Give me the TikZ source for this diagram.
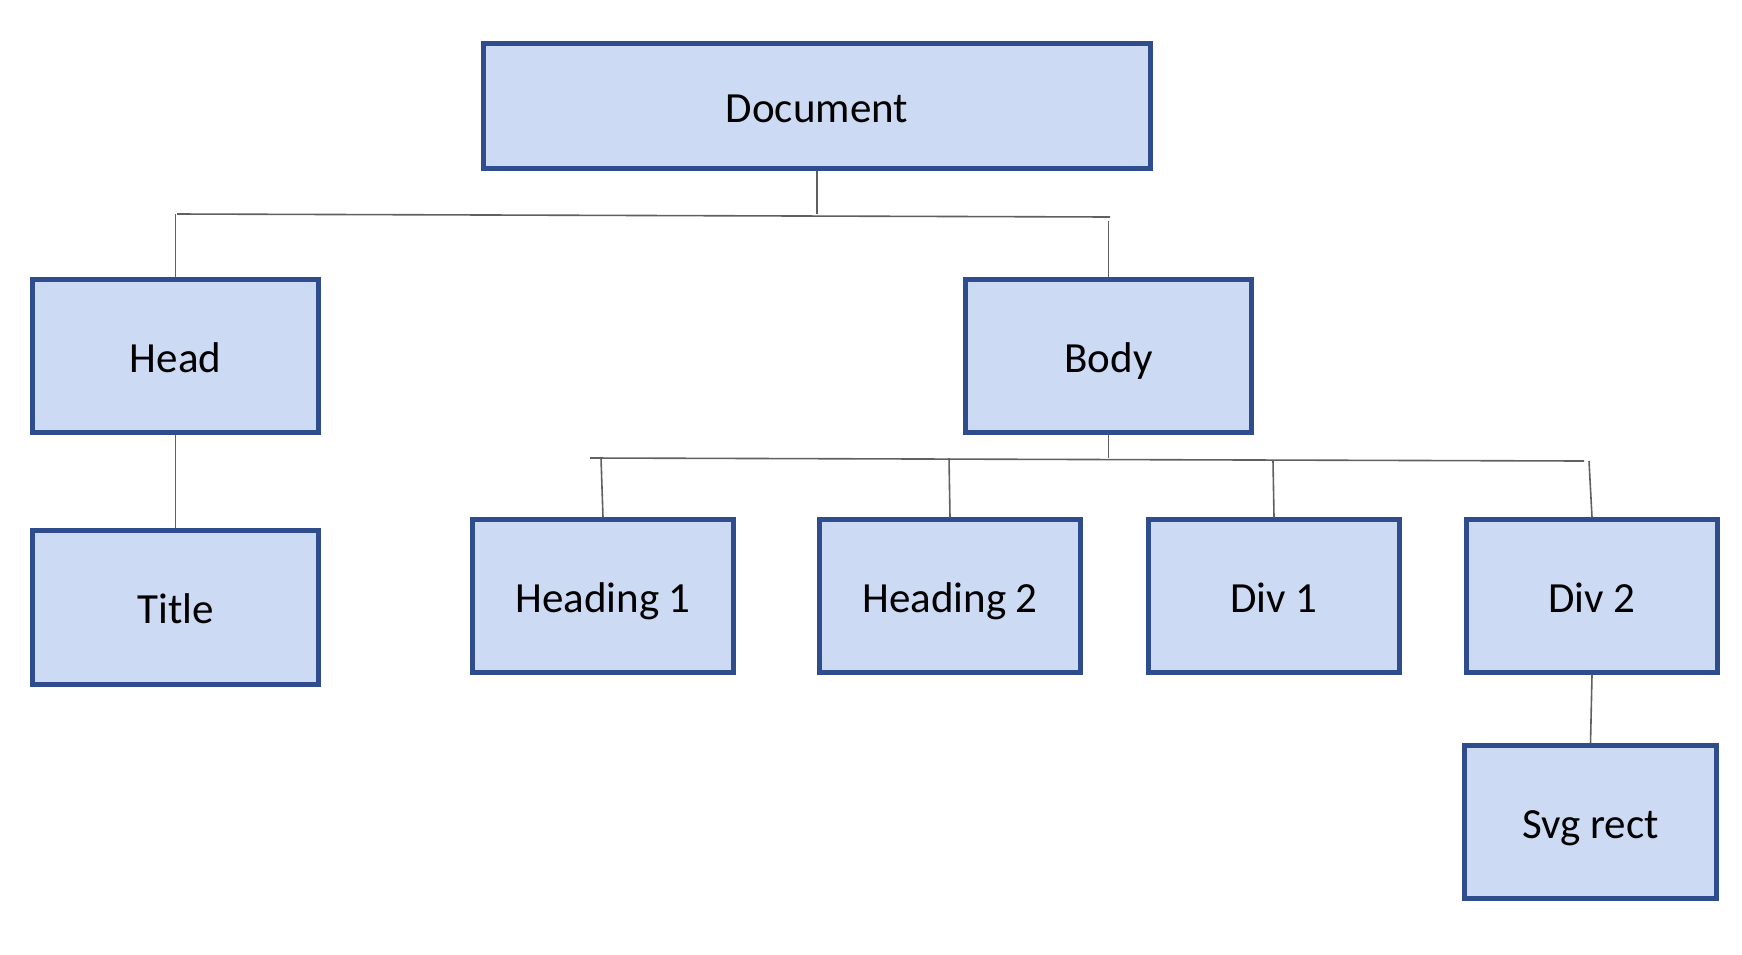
\documentclass[tikz,border=0pt]{standalone}
\usepackage{fontspec}
\setmainfont{Carlito}
\definecolor{boxfill}{HTML}{CCDAF3}
\definecolor{boxline}{HTML}{2F4D8C}
\definecolor{connc}{HTML}{606060}
\tikzset{
  box/.style={rectangle, draw=boxline, fill=boxfill, line width=4.4pt, inner sep=0pt,
    text=black, font=\fontsize{43}{50}\selectfont, text height=32pt, text depth=0pt},
  conn/.style={draw=connc, line width=1.6pt}
}
\begin{document}
\begin{tikzpicture}[x=1pt,y=-1pt]
\useasboundingbox (0,0) rectangle (1742,954);
% nodes
\node[box, minimum width=667pt, minimum height=125pt] (doc) at (817,106) {Document};
\node[box, minimum width=286pt, minimum height=153pt] (head) at (175.5,356) {Head};
\node[box, minimum width=286pt, minimum height=153pt] (body) at (1108.5,356) {Body};
\node[box, minimum width=286pt, minimum height=154pt] (title) at (175.5,607.5) {Title};
\node[box, minimum width=261pt, minimum height=153pt] (h1) at (603,596) {Heading 1};
\node[box, minimum width=261pt, minimum height=153pt] (h2) at (950,596) {Heading 2};
\node[box, minimum width=251pt, minimum height=153pt] (d1) at (1274,596) {Div 1};
\node[box, minimum width=251pt, minimum height=153pt] (d2) at (1592,596) {Div 2};
\node[box, minimum width=252pt, minimum height=153pt] (svg) at (1590.5,822) {Svg rect};
% junction coordinates
\coordinate (tl) at (177,214);
\coordinate (tr) at (1110,217);
\coordinate (bl) at (590,458);
\coordinate (br) at (1584,461);
% level 1
\draw[conn] (doc.south) -- (doc.south |- tl);
\draw[conn] (tl) -- (tr);
\draw[conn] (head.north) -- (head.north |- tl);
\draw[conn] (body.north) -- ([yshift=-4pt]body.north |- tr);
% head -> title
\draw[conn] (head.south) -- (title.north);
% level 2
\draw[conn] (body.south) -- ([yshift=3pt]body.south |- br);
\draw[conn] (bl) -- (br);
\draw[conn] (h1.north) -- ([xshift=-2pt]h1.north |- bl);
\draw[conn] (h2.north) -- ([xshift=-1pt]h2.north |- bl);
\draw[conn] (d1.north) -- ([xshift=-1pt]d1.north |- br);
\draw[conn] (d2.north) -- ([xshift=-3pt]d2.north |- br);
% div2 -> svg
\draw[conn] (d2.south) -- (svg.north);
\end{tikzpicture}
\end{document}
